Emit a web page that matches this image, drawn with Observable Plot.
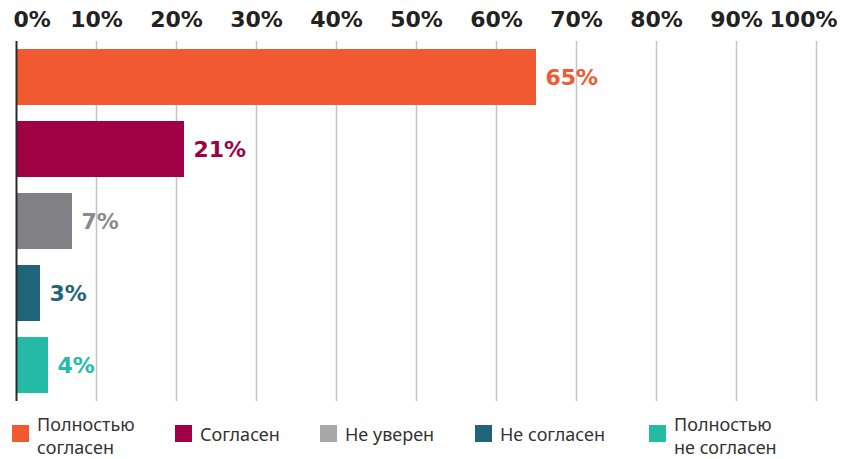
<!DOCTYPE html>
<html>
<head>
<meta charset="utf-8">
<script src="https://cdn.jsdelivr.net/npm/d3@7"></script>
<script src="https://cdn.jsdelivr.net/npm/@observablehq/plot@0.6"></script>
<style>
  html, body { margin: 0; padding: 0; background: #fff; overflow: hidden; }
  #chart svg { display: block; }
  #legend { display: flex; align-items: flex-start; padding: 12px 0 0 12px; font-family: "Noto Sans", "DejaVu Sans", sans-serif; font-size: 18px; color: #333; line-height: 23px; }
  .item { display: flex; align-items: flex-start; }
  .sw { width: 17px; height: 17px; margin: 12px 8px 0 0; flex: none; }
  .lbl div { white-space: nowrap; }
  .item:nth-child(1) { width: 163px; }
  .item:nth-child(2) { width: 145px; }
  .item:nth-child(3) { width: 155px; }
  .item:nth-child(4) { width: 174px; }
  .item:nth-child(2) .sw, .item:nth-child(3) .sw, .item:nth-child(4) .sw { margin-top: 2px; }
  .item:nth-child(2), .item:nth-child(3), .item:nth-child(4) { padding-top: 10px; }
</style>
</head>
<body>
<div id="chart"></div>
<div id="legend"></div>
<script>
const categories = ["Полностью согласен", "Согласен", "Не уверен", "Не согласен", "Полностью не согласен"];
const legendLines = [["Полностью", "согласен"], ["Согласен"], ["Не уверен"], ["Не согласен"], ["Полностью", "не согласен"]];
const values = [65, 21, 7, 3, 4];
const barColors = ["#F15A30", "#A00044", "#818185", "#1F6478", "#26BBA6"];
const labelColors = ["#F15A30", "#A00044", "#8A8A8E", "#1F6478", "#26BBA6"];
const swatchColors = ["#F15A30", "#A00044", "#A7A7AA", "#1F6478", "#26BBA6"];
const ticks = [0, 10, 20, 30, 40, 50, 60, 70, 80, 90, 100];

const data = categories.map((c, i) => ({cat: c, value: values[i], bar: barColors[i], label: labelColors[i]}));
const font = "'DejaVu Sans', sans-serif";
const tickStyle = {frameAnchor: "top", dy: -30, text: d => d + "%", fontSize: 22, fontWeight: "bold", fill: "#222"};

const chart = Plot.plot({
  width: 848,
  height: 401,
  marginTop: 41,
  marginBottom: 0,
  marginLeft: 16,
  marginRight: 32,
  x: {domain: [0, 100], axis: null},
  y: {domain: categories, paddingInner: 0.22, paddingOuter: 0.11, axis: null},
  color: {type: "identity"},
  style: {fontFamily: font, background: "white"},
  marks: [
    Plot.ruleX(ticks.filter(t => t > 0), {x: d => d, stroke: "#c4c4c4", strokeWidth: 1.5}),
    Plot.barX(data, {x: "value", y: "cat", fill: "bar"}),
    Plot.ruleX([0], {stroke: "#2a2a2a", strokeWidth: 2}),
    Plot.text(data, {x: "value", y: "cat", text: d => d.value + "%", fill: "label", textAnchor: "start", dx: 9, fontSize: 22, fontWeight: "bold"}),
    Plot.text(ticks.filter(t => t === 0), {x: d => d, ...tickStyle, textAnchor: "start", dx: -3}),
    Plot.text(ticks.filter(t => t > 0 && t < 100), {x: d => d, ...tickStyle, textAnchor: "middle"}),
    Plot.text(ticks.filter(t => t === 100), {x: d => d, ...tickStyle, textAnchor: "end", dx: 21})
  ]
});
document.getElementById("chart").appendChild(chart);

const legend = document.getElementById("legend");
legendLines.forEach((lines, i) => {
  const item = document.createElement("div");
  item.className = "item";
  item.innerHTML = `<div class="sw" style="background:${swatchColors[i]}"></div><div class="lbl">${lines.map(l => `<div>${l}</div>`).join("")}</div>`;
  legend.appendChild(item);
});
</script>
</body>
</html>
